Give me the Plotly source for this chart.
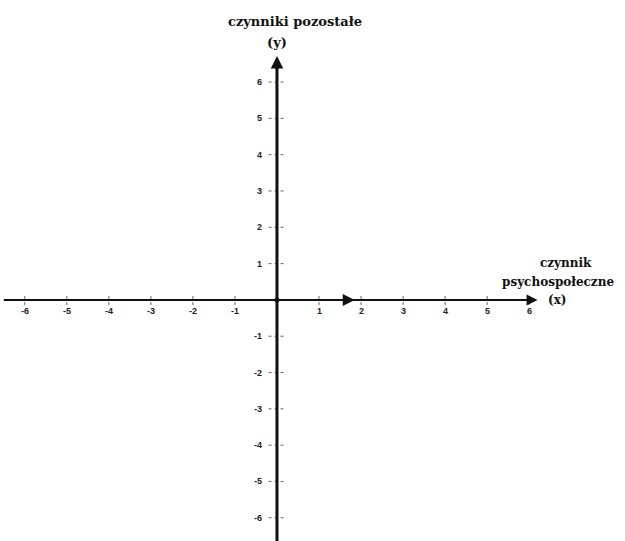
import plotly.graph_objects as go

# Data / labels
x_ticks = [-6, -5, -4, -3, -2, -1, 1, 2, 3, 4, 5, 6]
y_ticks = [6, 5, 4, 3, 2, 1, -1, -2, -3, -4, -5, -6]
x_tick_labels = [str(v) for v in x_ticks]
y_tick_labels = [str(v) for v in y_ticks]
y_title_lines = ["czynniki pozostałe", "(y)"]
x_title_lines = ["czynnik", "psychospołeczne", "(x)"]

X_MIN, X_MAX = -6.59, 8.28
Y_MIN, Y_MAX = -6.64, 8.26

fig = go.Figure()

# tick marks (dotted grey dashes)
tx, ty = [], []
for v in x_ticks:
    tx += [v, v, None]
    ty += [-0.14, 0.14, None]
fig.add_trace(go.Scatter(x=tx, y=ty, mode="lines", line=dict(color="#666", width=1, dash="dot"),
                         hoverinfo="skip", showlegend=False))
tx, ty = [], []
for v in y_ticks:
    tx += [-0.2, 0.2, None]
    ty += [v, v, None]
fig.add_trace(go.Scatter(x=tx, y=ty, mode="lines", line=dict(color="#666", width=1, dash="dot"),
                         hoverinfo="skip", showlegend=False))

# main axes lines
fig.add_trace(go.Scatter(x=[-6.5, 6.05], y=[0, 0], mode="lines", line=dict(color="#111", width=2),
                         hoverinfo="skip", showlegend=False))
fig.add_trace(go.Scatter(x=[0, 0], y=[Y_MIN, 6.5], mode="lines", line=dict(color="#111", width=3),
                         hoverinfo="skip", showlegend=False))
fig.add_trace(go.Scatter(x=[0], y=[0], mode="markers", marker=dict(color="#111", size=5),
                         hoverinfo="skip", showlegend=False))

# arrowheads
fig.add_annotation(x=0, y=6.72, ax=0, ay=6.3, xref="x", yref="y", axref="x", ayref="y",
                   showarrow=True, arrowhead=2, arrowsize=1.0, arrowwidth=2.5, arrowcolor="#111", text="")
fig.add_annotation(x=6.2, y=0, ax=5.9, ay=0, xref="x", yref="y", axref="x", ayref="y",
                   showarrow=True, arrowhead=2, arrowsize=1.1, arrowwidth=2, arrowcolor="#111", text="")
fig.add_annotation(x=1.85, y=0, ax=1.5, ay=0, xref="x", yref="y", axref="x", ayref="y",
                   showarrow=True, arrowhead=2, arrowsize=1.2, arrowwidth=2, arrowcolor="#111", text="")

tick_font = dict(family="Liberation Sans, Arial", size=9, color="#222")
for v, lab in zip(x_ticks, x_tick_labels):
    fig.add_annotation(x=v, y=-0.3, xref="x", yref="y", text="<b>%s</b>" % lab, showarrow=False,
                       font=tick_font, xanchor="center", yanchor="middle")
for v, lab in zip(y_ticks, y_tick_labels):
    fig.add_annotation(x=-0.3, y=v, xref="x", yref="y", text="<b>%s</b>" % lab, showarrow=False,
                       font=tick_font, xanchor="right", yanchor="middle")

title_font = dict(family="DejaVu Serif", size=13, color="#111")
xlab_font = dict(family="DejaVu Serif", size=12, color="#111")
fig.add_annotation(x=0.43, y=7.68, xref="x", yref="y", text="<b>%s</b>" % y_title_lines[0],
                   showarrow=False, font=title_font, xanchor="center", yanchor="middle")
fig.add_annotation(x=0.0, y=7.1, xref="x", yref="y", text="<b>%s</b>" % y_title_lines[1],
                   showarrow=False, font=title_font, xanchor="center", yanchor="middle")
fig.add_annotation(x=6.88, y=1.02, xref="x", yref="y", text="<b>%s</b>" % x_title_lines[0],
                   showarrow=False, font=xlab_font, xanchor="center", yanchor="middle")
fig.add_annotation(x=6.68, y=0.5, xref="x", yref="y", text="<b>%s</b>" % x_title_lines[1],
                   showarrow=False, font=xlab_font, xanchor="center", yanchor="middle")
fig.add_annotation(x=6.4, y=0.0, xref="x", yref="y", text="<b>%s</b>" % x_title_lines[2],
                   showarrow=False, font=xlab_font, xanchor="left", yanchor="middle")

fig.update_xaxes(range=[X_MIN, X_MAX], visible=False, showgrid=False, zeroline=False)
fig.update_yaxes(range=[Y_MIN, Y_MAX], visible=False, showgrid=False, zeroline=False)
fig.update_layout(width=625, height=541, margin=dict(l=0, r=0, t=0, b=0),
                  plot_bgcolor="white", paper_bgcolor="white")

fig.write_html("out.html", config={"displayModeBar": False},
               post_script="document.body.style.margin='0';document.body.style.overflow='hidden';")
